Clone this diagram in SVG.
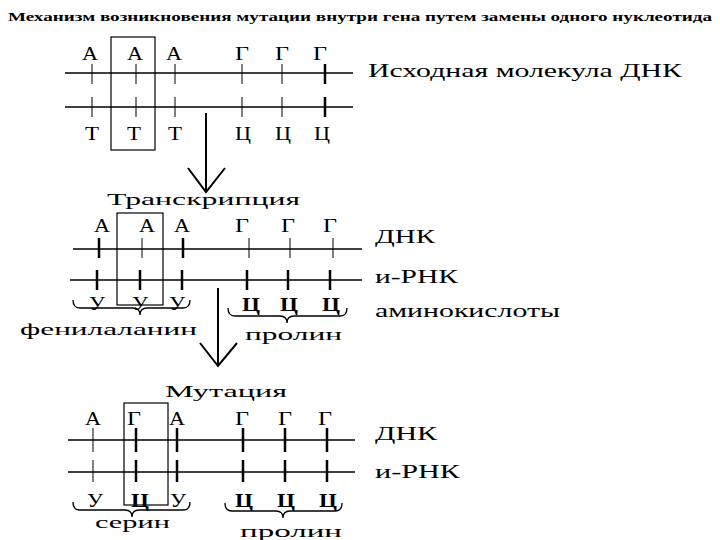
<svg xmlns="http://www.w3.org/2000/svg" width="720" height="540" viewBox="0 0 720 540">
<style>
text{font-family:"Liberation Serif","DejaVu Serif",serif;fill:#000}
.t{font-size:13px;font-weight:bold}
.n{font-size:18px;text-anchor:middle}
.lb{font-size:19px}
.sm{font-size:17px}
.ln{stroke:#000;stroke-width:1.3;fill:none}
.tk{stroke:#000;stroke-width:1;fill:none}
.tkb{stroke:#000;stroke-width:2.5;fill:none}
.bx{stroke:#000;stroke-width:1.2;fill:none}
.br{stroke:#000;stroke-width:1.3;fill:none}
.ar{stroke:#000;stroke-width:2;fill:none}
</style>
<rect width="720" height="540" fill="#fff"/>
<text class="t" x="8" y="21" textLength="704" lengthAdjust="spacingAndGlyphs">Механизм возникновения мутации внутри гена путем замены одного нуклеотида</text>

<g id="dna-original">
  <rect class="bx" x="111" y="37" width="44" height="113"/>
  <line class="ln" x1="65" y1="73" x2="353" y2="73"/>
  <line class="ln" x1="65" y1="107" x2="353" y2="107"/>
  <g class="tk">
    <line x1="92" y1="64" x2="92" y2="84"/><line x1="136" y1="64" x2="136" y2="84"/><line x1="175" y1="64" x2="175" y2="84"/>
    <line x1="242" y1="64" x2="242" y2="84"/><line x1="282" y1="64" x2="282" y2="84"/>
    <line x1="92" y1="97" x2="92" y2="117"/><line x1="136" y1="97" x2="136" y2="117"/><line x1="175" y1="97" x2="175" y2="117"/>
    <line x1="242" y1="97" x2="242" y2="117"/><line x1="282" y1="97" x2="282" y2="117"/>
  </g>
  <line class="tkb" x1="325" y1="64" x2="325" y2="84"/>
  <line class="tkb" x1="325" y1="97" x2="325" y2="117"/>
  <text class="n" x="90" y="60" textLength="16" lengthAdjust="spacingAndGlyphs">А</text>
  <text class="n" x="135" y="60" textLength="16" lengthAdjust="spacingAndGlyphs">А</text>
  <text class="n" x="174" y="60" textLength="16" lengthAdjust="spacingAndGlyphs">А</text>
  <text class="n" x="242" y="60" textLength="14" lengthAdjust="spacingAndGlyphs">Г</text>
  <text class="n" x="282" y="60" textLength="14" lengthAdjust="spacingAndGlyphs">Г</text>
  <text class="n" x="320" y="60" textLength="14" lengthAdjust="spacingAndGlyphs">Г</text>
  <text class="n" x="92" y="140" textLength="14" lengthAdjust="spacingAndGlyphs">Т</text>
  <text class="n" x="134" y="140" textLength="14" lengthAdjust="spacingAndGlyphs">Т</text>
  <text class="n" x="175" y="140" textLength="14" lengthAdjust="spacingAndGlyphs">Т</text>
  <text class="n" x="243" y="140" textLength="16" lengthAdjust="spacingAndGlyphs">Ц</text>
  <text class="n" x="283" y="140" textLength="16" lengthAdjust="spacingAndGlyphs">Ц</text>
  <text class="n" x="322" y="140" textLength="16" lengthAdjust="spacingAndGlyphs">Ц</text>
  <text class="lb" x="368" y="77" textLength="314" lengthAdjust="spacingAndGlyphs">Исходная молекула ДНК</text>
</g>

<g id="transcription">
  <text class="sm" x="107" y="205" textLength="193" lengthAdjust="spacingAndGlyphs">Транскрипция</text>
  <rect class="bx" x="117" y="213" width="46" height="92"/>
  <line class="ln" x1="73" y1="249" x2="362" y2="249"/>
  <line class="ln" x1="70" y1="280" x2="362" y2="280"/>
  <line class="tkb" x1="99" y1="238" x2="99" y2="258"/>
  <line class="tk" x1="142" y1="238" x2="142" y2="258"/>
  <line class="tkb" x1="183" y1="238" x2="183" y2="258"/>
  <line class="tk" x1="249" y1="238" x2="249" y2="258"/>
  <line class="tk" x1="290" y1="238" x2="290" y2="258"/>
  <line class="tk" x1="333" y1="238" x2="333" y2="258"/>
  <g class="tkb">
    <line x1="97" y1="270" x2="97" y2="290"/><line x1="140" y1="270" x2="140" y2="290"/><line x1="182" y1="270" x2="182" y2="290"/>
    <line x1="247" y1="270" x2="247" y2="290"/><line x1="288" y1="270" x2="288" y2="290"/><line x1="330" y1="270" x2="330" y2="290"/>
  </g>
  <text class="n" x="102" y="232" textLength="16" lengthAdjust="spacingAndGlyphs">А</text>
  <text class="n" x="147" y="232" textLength="16" lengthAdjust="spacingAndGlyphs">А</text>
  <text class="n" x="182" y="232" textLength="16" lengthAdjust="spacingAndGlyphs">А</text>
  <text class="n" x="242" y="232" textLength="14" lengthAdjust="spacingAndGlyphs">Г</text>
  <text class="n" x="288" y="232" textLength="14" lengthAdjust="spacingAndGlyphs">Г</text>
  <text class="n" x="330" y="232" textLength="14" lengthAdjust="spacingAndGlyphs">Г</text>
  <text class="n" x="97" y="310" textLength="16" lengthAdjust="spacingAndGlyphs">У</text>
  <text class="n" x="140" y="310" textLength="16" lengthAdjust="spacingAndGlyphs">У</text>
  <text class="n" x="177" y="310" textLength="16" lengthAdjust="spacingAndGlyphs">У</text>
  <text class="n" x="251" y="311" font-weight="bold" textLength="18" lengthAdjust="spacingAndGlyphs">Ц</text>
  <text class="n" x="289" y="311" font-weight="bold" textLength="18" lengthAdjust="spacingAndGlyphs">Ц</text>
  <text class="n" x="331" y="311" font-weight="bold" textLength="18" lengthAdjust="spacingAndGlyphs">Ц</text>
  <path class="br" d="M73,300 Q73,308 80,308 L133,308 Q140,308 140,315 Q140,308 147,308 L183,308 Q190,308 190,300"/>
  <path class="br" d="M228,308 Q228,316 235,316 L280,316 Q287,316 287,323 Q287,316 294,316 L340,316 Q347,316 347,308"/>
  <text class="sm" x="20" y="335" textLength="177" lengthAdjust="spacingAndGlyphs">фенилаланин</text>
  <text class="sm" x="245" y="340" textLength="97" lengthAdjust="spacingAndGlyphs">пролин</text>
  <text class="lb" x="375" y="243" textLength="60" lengthAdjust="spacingAndGlyphs">ДНК</text>
  <text class="lb" x="375" y="283" textLength="83" lengthAdjust="spacingAndGlyphs">и-РНК</text>
  <text class="lb" x="375" y="317" textLength="185" lengthAdjust="spacingAndGlyphs">аминокислоты</text>
</g>

<g id="mutation">
  <text class="sm" x="165" y="397" textLength="122" lengthAdjust="spacingAndGlyphs">Мутация</text>
  <rect class="bx" x="124" y="403" width="44" height="102"/>
  <line class="ln" x1="68" y1="440" x2="355" y2="440"/>
  <line class="ln" x1="68" y1="472" x2="355" y2="472"/>
  <line class="tk" x1="93" y1="428" x2="93" y2="452"/>
  <line class="tk" x1="93" y1="460" x2="93" y2="482"/>
  <g class="tkb">
    <line x1="136" y1="428" x2="136" y2="452"/><line x1="177" y1="428" x2="177" y2="452"/>
    <line x1="243" y1="428" x2="243" y2="452"/><line x1="285" y1="428" x2="285" y2="452"/><line x1="327" y1="428" x2="327" y2="452"/>
    <line x1="136" y1="460" x2="136" y2="482"/><line x1="177" y1="460" x2="177" y2="482"/>
    <line x1="243" y1="460" x2="243" y2="482"/><line x1="285" y1="460" x2="285" y2="482"/><line x1="327" y1="460" x2="327" y2="482"/>
  </g>
  <text class="n" x="93" y="425" textLength="16" lengthAdjust="spacingAndGlyphs">А</text>
  <text class="n" x="134" y="425" textLength="14" lengthAdjust="spacingAndGlyphs">Г</text>
  <text class="n" x="177" y="425" textLength="16" lengthAdjust="spacingAndGlyphs">А</text>
  <text class="n" x="242" y="425" textLength="14" lengthAdjust="spacingAndGlyphs">Г</text>
  <text class="n" x="285" y="425" textLength="14" lengthAdjust="spacingAndGlyphs">Г</text>
  <text class="n" x="325" y="425" textLength="14" lengthAdjust="spacingAndGlyphs">Г</text>
  <text class="n" x="95" y="507" textLength="16" lengthAdjust="spacingAndGlyphs">У</text>
  <text class="n" x="140" y="507" font-weight="bold" textLength="18" lengthAdjust="spacingAndGlyphs">Ц</text>
  <text class="n" x="178" y="507" textLength="16" lengthAdjust="spacingAndGlyphs">У</text>
  <text class="n" x="244" y="507" font-weight="bold" textLength="18" lengthAdjust="spacingAndGlyphs">Ц</text>
  <text class="n" x="286" y="507" font-weight="bold" textLength="18" lengthAdjust="spacingAndGlyphs">Ц</text>
  <text class="n" x="328" y="507" font-weight="bold" textLength="18" lengthAdjust="spacingAndGlyphs">Ц</text>
  <path class="br" d="M73,502 Q73,510 80,510 L125,510 Q132,510 132,517 Q132,510 139,510 L183,510 Q190,510 190,502"/>
  <path class="br" d="M225,503 Q225,511 232,511 L276,511 Q283,511 283,518 Q283,511 290,511 L335,511 Q342,511 342,503"/>
  <text class="sm" x="95" y="528" textLength="75" lengthAdjust="spacingAndGlyphs">серин</text>
  <text class="sm" x="240" y="537" textLength="102" lengthAdjust="spacingAndGlyphs">пролин</text>
  <text class="lb" x="375" y="440" textLength="62" lengthAdjust="spacingAndGlyphs">ДНК</text>
  <text class="lb" x="375" y="478" textLength="85" lengthAdjust="spacingAndGlyphs">и-РНК</text>
</g>

<g id="connectors">
  <path class="ar" d="M206,113 L206,191 M188,168 L206,192 L225,168"/>
  <path class="ar" d="M218,288 L218,365 M200,343 L218,366 L237,343"/>
</g>
</svg>
